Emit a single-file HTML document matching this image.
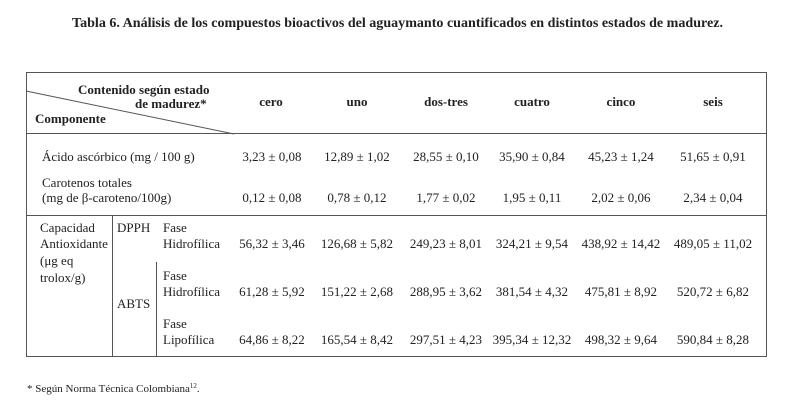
<!DOCTYPE html>
<html><head><meta charset="utf-8"><style>
html,body{margin:0;padding:0;background:#fff;}
svg{display:block;font-family:"Liberation Serif",serif;fill:#222;}
.b{font-weight:bold;}
</style></head><body>
<svg width="800" height="413" viewBox="0 0 800 413">
<text class="b" x="72" y="27" font-size="13.5" textLength="651" lengthAdjust="spacingAndGlyphs">Tabla 6. Análisis de los compuestos bioactivos del aguaymanto cuantificados en distintos estados de madurez.</text>
<g stroke="#555" stroke-width="1" fill="none">
<rect x="26.5" y="72.5" width="740" height="284"/>
<line x1="26" y1="133.5" x2="767" y2="133.5"/>
<line x1="26" y1="215.5" x2="767" y2="215.5"/>
<line x1="26" y1="91" x2="234" y2="134"/>
<line x1="112.5" y1="215" x2="112.5" y2="357"/>
<line x1="156.5" y1="262" x2="156.5" y2="357"/>
</g>
<g font-size="13">
<text class="b" x="78" y="94">Contenido según estado</text>
<text class="b" x="135" y="108">de  madurez*</text>
<text class="b" x="35" y="123">Componente</text>
<g class="b" text-anchor="middle">
<text x="271" y="106">cero</text><text x="357" y="106">uno</text><text x="446" y="106">dos-tres</text><text x="532" y="106">cuatro</text><text x="621" y="106">cinco</text><text x="713" y="106">seis</text>
</g>
</g>
<g font-size="13">
<text x="42" y="161">Ácido ascórbico (mg / 100 g)</text>
<text x="42" y="187">Carotenos totales</text>
<text x="42" y="202">(mg de β-caroteno/100g)</text>
<text x="40" y="232">Capacidad</text>
<text x="40" y="248">Antioxidante</text>
<text x="40" y="265">(μg eq</text>
<text x="40" y="282">trolox/g)</text>
<text x="117" y="232">DPPH</text>
<text x="117" y="308">ABTS</text>
<text x="163" y="232">Fase</text><text x="163" y="248">Hidrofílica</text>
<text x="163" y="280">Fase</text><text x="163" y="296">Hidrofílica</text>
<text x="163" y="328">Fase</text><text x="163" y="344">Lipofílica</text>
</g>
<g font-size="13" text-anchor="middle">
<g><text x="272" y="161">3,23 ± 0,08</text><text x="357" y="161">12,89 ± 1,02</text><text x="446" y="161">28,55 ± 0,10</text><text x="532" y="161">35,90 ± 0,84</text><text x="621" y="161">45,23 ± 1,24</text><text x="713" y="161">51,65 ± 0,91</text></g>
<g><text x="272" y="202">0,12 ± 0,08</text><text x="357" y="202">0,78 ± 0,12</text><text x="446" y="202">1,77 ± 0,02</text><text x="532" y="202">1,95 ± 0,11</text><text x="621" y="202">2,02 ± 0,06</text><text x="713" y="202">2,34 ± 0,04</text></g>
<g><text x="272" y="248">56,32  ± 3,46</text><text x="357" y="248">126,68  ± 5,82</text><text x="446" y="248">249,23  ± 8,01</text><text x="532" y="248">324,21  ± 9,54</text><text x="621" y="248">438,92  ± 14,42</text><text x="713" y="248">489,05  ± 11,02</text></g>
<g><text x="272" y="296">61,28 ± 5,92</text><text x="357" y="296">151,22 ± 2,68</text><text x="446" y="296">288,95 ± 3,62</text><text x="532" y="296">381,54 ± 4,32</text><text x="621" y="296">475,81 ± 8,92</text><text x="713" y="296">520,72 ± 6,82</text></g>
<g><text x="272" y="344">64,86 ± 8,22</text><text x="357" y="344">165,54 ± 8,42</text><text x="446" y="344">297,51 ± 4,23</text><text x="532" y="344">395,34 ± 12,32</text><text x="621" y="344">498,32 ± 9,64</text><text x="713" y="344">590,84 ± 8,28</text></g>
</g>
<text x="27" y="392" font-size="11">* Según Norma Técnica Colombiana<tspan font-size="7" dy="-4">12</tspan><tspan dy="4">.</tspan></text>
</svg>
</body></html>
